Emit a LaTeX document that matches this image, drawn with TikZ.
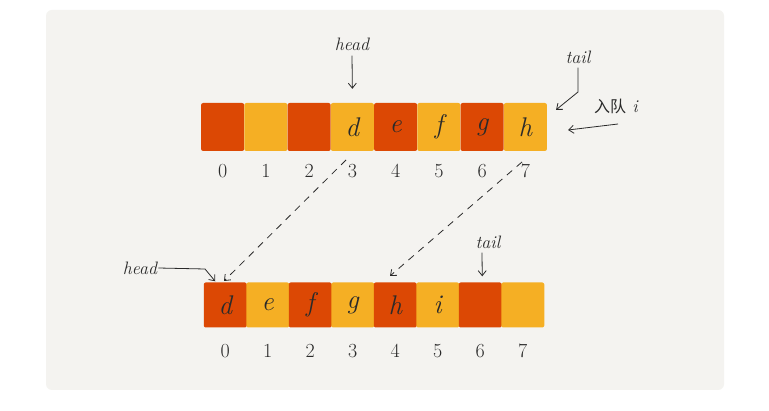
\documentclass[tikz,border=0pt]{standalone}
\usepackage{fontspec}
\newfontfamily\cjk{Noto Sans CJK SC}
\usetikzlibrary{arrows.meta}
\definecolor{cred}{HTML}{DC4804}
\definecolor{cyel}{HTML}{F5AF24}
\definecolor{bgc}{HTML}{F4F3F0}
\definecolor{ink}{HTML}{2A2A2A}
\tikzset{
  cell/.style={minimum width=43pt, minimum height=48pt, inner sep=0pt, rounded corners=2pt, font=\fontsize{27}{30}\selectfont\itshape, text=ink},
  rc/.style={cell, fill=cred},
  yc/.style={cell, fill=cyel},
  idx/.style={font=\fontsize{20}{22}\selectfont, text=ink},
  lbl/.style={font=\fontsize{18}{20}\selectfont\itshape, text=ink, inner sep=1pt},
  arr/.style={draw=ink, line width=0.8pt, -{Straight Barb[length=5pt,width=8pt]}},
  darr/.style={arr, dashed, dash pattern=on 7pt off 6pt}
}
\begin{document}
\begin{tikzpicture}[x=1pt,y=-1pt]
\useasboundingbox (0,0) rectangle (769,411);
\fill[white] (0,0) rectangle (769,411);
\fill[bgc, rounded corners=6pt] (46,10) rectangle (724,390);
% top row
\foreach \i/\c/\t in {0/rc/,1/yc/,2/rc/,3/yc/d,4/rc/e,5/yc/f,6/rc/g,7/yc/h}{
  \node[\c] (t\i) at ({201+43.25*(\i+0.5)},127) {\t};
  \node[idx] (ti\i) at ({201+43.25*(\i+0.5)},171) {\i};
}
% bottom row
\foreach \i/\c/\t in {0/rc/d,1/yc/e,2/rc/f,3/yc/g,4/rc/h,5/yc/i,6/rc/,7/yc/}{
  \node[\c, minimum height=45pt] (b\i) at ({204+42.5*(\i+0.5)},305) {\t};
  \node[idx] (bi\i) at ({204+42.5*(\i+0.5)},351) {\i};
}
% labels
\node[lbl] (htop) at (352,44) {head};
\node[lbl] (ttop) at (578,57) {tail};
\node[lbl] (enq) at (616,106) {{\cjk\fontsize{16}{18}\selectfont 入队} i};
\node[lbl] (hbot) at (140,268) {head};
\node[lbl] (tbot) at (488,242) {tail};
\coordinate (tk) at (578,92);
\coordinate (d1s) at (346,160);
\coordinate (d1e) at (224,281);
\coordinate (d2s) at (522,162);
\coordinate (d2e) at (390,276);
\coordinate (hk) at (205,269);
\coordinate (es) at (618,124);
% arrows
\draw[arr] ([yshift=-4pt]htop.south) -- ([yshift=14pt]t3.north);
\draw[arr] ([yshift=-3pt]ttop.south) -- (tk) -- ([xshift=9pt,yshift=-7pt]t7.north east);
\draw[arr] (es) -- ([xshift=21pt,yshift=-3pt]t7.east);
\draw[arr] (hbot.east) -- (hk) -- ([xshift=-10pt,yshift=1pt]b0.north);
\draw[arr] ([xshift=-6pt,yshift=-3pt]tbot.south) -- ([xshift=2pt,yshift=6pt]b6.north);
\draw[darr] (d1s) -- (d1e);
\draw[darr] (d2s) -- (d2e);
\end{tikzpicture}
\end{document}
